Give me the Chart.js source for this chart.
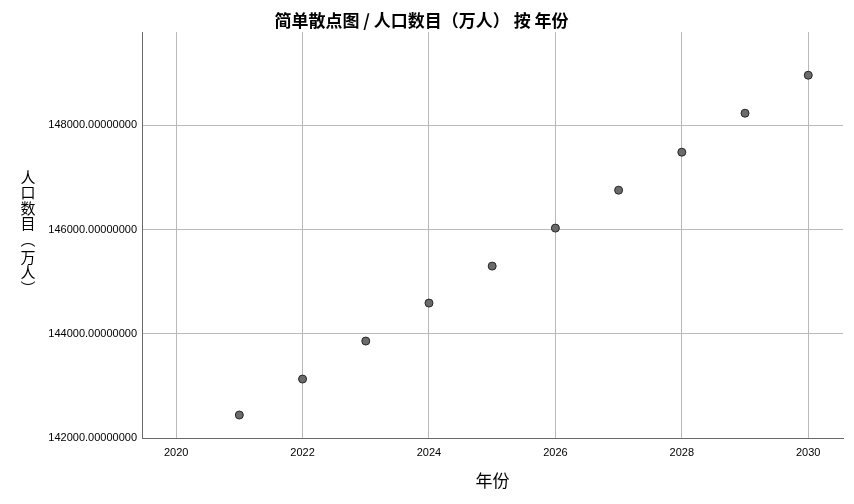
<!DOCTYPE html>
<html>
<head>
<meta charset="utf-8">
<script src="https://cdn.jsdelivr.net/npm/chart.js@4/dist/chart.umd.min.js"></script>
<style>
  html, body { margin: 0; padding: 0; background: #fff; }
  #wrap { width: 854px; height: 504px; }
</style>
</head>
<body>
<div id="wrap"><canvas id="chart"></canvas></div>
<script>
// data
var years = [2021, 2022, 2023, 2024, 2025, 2026, 2027, 2028, 2029, 2030];
var population = [142441, 143131, 143860, 144589, 145298, 146027, 146755, 147484, 148232, 148961];
var xTicks = [2020, 2022, 2024, 2026, 2028, 2030];
var yTicks = [142000, 144000, 146000, 148000];

var titleText = '简单散点图 / 人口数目（万人） 按 年份';
var xLabel = '年份';
var yLabelChars = ['人', '口', '数', '目', '︵', '万', '人', '︶'];

var CJK = '"Noto Sans CJK SC", "Noto Sans", sans-serif';

// y axis title is written top to bottom, one character per row
var verticalLabel = {
    id: 'verticalLabel',
    afterDraw: function (chart) {
        var ctx = chart.ctx;
        var y = 177;
        ctx.save();
        ctx.fillStyle = '#000';
        ctx.font = '15px ' + CJK;
        ctx.textAlign = 'center';
        ctx.textBaseline = 'middle';
        yLabelChars.forEach(function (ch) {
            var bracket = (ch === '︵' || ch === '︶');
            ctx.fillText(ch, 28, y);
            y += bracket ? 18 : 15.5;
        });
        ctx.restore();
    }
};

var points = years.map(function (y, i) {
    return { x: y, y: population[i] };
});

new Chart(document.getElementById('chart').getContext('2d'), {
    type: 'scatter',
    data: {
        datasets: [{
            data: points,
            backgroundColor: '#6b6b6b',
            borderColor: '#262626',
            borderWidth: 1,
            pointRadius: 4,
            pointHoverRadius: 4
        }]
    },
    plugins: [verticalLabel],
    options: {
        responsive: true,
        maintainAspectRatio: false,
        animation: false,
        layout: { padding: { left: 0, right: 11, top: 0, bottom: 0 } },
        plugins: {
            legend: { display: false },
            tooltip: { enabled: false },
            title: {
                display: true,
                text: titleText,
                color: '#000',
                font: { family: CJK, size: 17, weight: 'bold' },
                padding: { top: 10, bottom: 1.6 }
            }
        },
        scales: {
            x: {
                type: 'linear',
                min: 2019.46,
                max: 2030.55,
                afterBuildTicks: function (scale) {
                    scale.ticks = xTicks.map(function (v) { return { value: v }; });
                },
                afterFit: function (scale) { scale.height = 66; },
                grid: { color: '#b9b9b9', lineWidth: 1, drawTicks: false },
                border: { color: '#6a6a6a', width: 1 },
                ticks: {
                    color: '#000',
                    font: { family: '"Liberation Sans", Arial, sans-serif', size: 11 },
                    padding: 8,
                    maxRotation: 0,
                    callback: function (v) { return String(v); }
                },
                title: {
                    display: true,
                    text: xLabel,
                    color: '#000',
                    font: { family: CJK, size: 17, weight: 'normal' },
                    padding: { top: 0, bottom: 13 }
                }
            },
            y: {
                type: 'linear',
                min: 142000,
                max: 149790,
                afterBuildTicks: function (scale) {
                    scale.ticks = yTicks.map(function (v) { return { value: v }; });
                },
                afterFit: function (scale) { scale.width = 142; },
                grid: { color: '#b9b9b9', lineWidth: 1, drawTicks: false },
                border: { color: '#6a6a6a', width: 1 },
                ticks: {
                    color: '#000',
                    font: { family: '"Liberation Sans", Arial, sans-serif', size: 11 },
                    padding: 5,
                    callback: function (v) { return Number(v).toFixed(8); }
                }
            }
        }
    }
});
</script>
</body>
</html>
